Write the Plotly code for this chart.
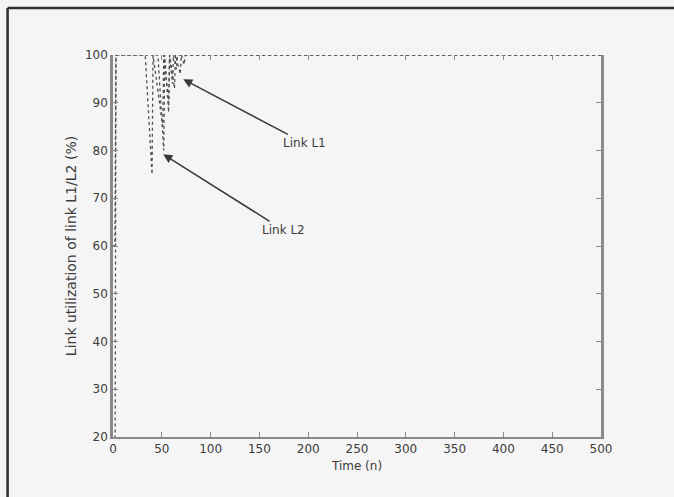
import plotly.graph_objects as go

# Link utilisation traces (breakpoints of each piecewise-linear curve)
time_l1 = [0, 2, 3, 41, 51, 52, 57, 58, 63, 64, 69, 70, 73, 74, 500]
util_l1 = [60, 60, 100, 100, 85, 100, 90, 100, 93, 100, 96, 100, 98, 100, 100]

time_l2 = [0, 2, 3, 33, 40, 41, 46, 52, 53, 57, 58, 61, 62, 65, 66, 500]
util_l2 = [0, 0, 100, 100, 75, 100, 100, 80, 100, 88, 100, 94, 100, 97, 100, 100]

x_ticks = [0, 50, 100, 150, 200, 250, 300, 350, 400, 450, 500]
y_ticks = [20, 30, 40, 50, 60, 70, 80, 90, 100]

FONT = "DejaVu Sans"
AXIS_COL = "#8a8a8a"
TEXT_COL = "#3c3c3c"
BG = "#f5f5f5"

fig = go.Figure()
for t, u, name in [(time_l1, util_l1, "Link L1"), (time_l2, util_l2, "Link L2")]:
    fig.add_trace(go.Scatter(
        x=t, y=u, mode="lines", name=name,
        line=dict(color="#505050", width=1.3, dash="3px,3px"),
        showlegend=False,
    ))

# invisible trace on the top axis so its ticks are drawn
fig.add_trace(go.Scatter(x=[0, 500], y=[100, 100], xaxis="x2", mode="lines",
                         line=dict(width=0), showlegend=False, hoverinfo="skip"))

fig.update_layout(
    width=674, height=497,
    margin=dict(l=113, r=73, t=55, b=60),
    paper_bgcolor=BG, plot_bgcolor=BG,
    font=dict(family=FONT, size=12, color=TEXT_COL),
    xaxis=dict(
        range=[0, 500], tickvals=x_ticks, ticks="inside", ticklen=5,
        tickcolor=AXIS_COL, showline=True, linecolor=AXIS_COL, linewidth=2,
        showgrid=False, zeroline=False,
        title=dict(text="Time (n)", standoff=6, font=dict(size=12)),
    ),
    xaxis2=dict(
        range=[0, 500], tickvals=x_ticks, ticks="inside", ticklen=5,
        tickcolor=AXIS_COL, overlaying="x", side="top", showline=False,
        showticklabels=False, showgrid=False, zeroline=False,
    ),
    yaxis=dict(
        range=[20, 100], tickvals=y_ticks, ticks="inside", ticklen=5,
        tickcolor=AXIS_COL, showline=True, linecolor=AXIS_COL, linewidth=2.5,
        mirror="ticks", showgrid=False, zeroline=False,
        title=dict(text="Link utilization of link L1/L2 (%)", standoff=6,
                   font=dict(size=14)),
    ),
    annotations=[
        dict(x=72, y=94.9, ax=195.7, ay=81.6, axref="x", ayref="y",
             text="Link L1", showarrow=True, arrowhead=2, arrowsize=1.2,
             arrowwidth=1.5, arrowcolor="#3a3a3a", font=dict(size=12)),
        dict(x=51.5, y=79.2, ax=174.2, ay=63.4, axref="x", ayref="y",
             text="Link L2", showarrow=True, arrowhead=2, arrowsize=1.2,
             arrowwidth=1.5, arrowcolor="#3a3a3a", font=dict(size=12)),
    ],
    shapes=[
        # outer frame (left and top edges)
        dict(type="line", xref="paper", yref="paper", x0=-0.216, x1=-0.216,
             y0=-0.2, y1=1.123, line=dict(color="#2e2e2e", width=2.5)),
        dict(type="line", xref="paper", yref="paper", x0=-0.216, x1=1.2,
             y0=1.123, y1=1.123, line=dict(color="#2e2e2e", width=2.5)),
    ],
)

fig.write_html("out.html")
